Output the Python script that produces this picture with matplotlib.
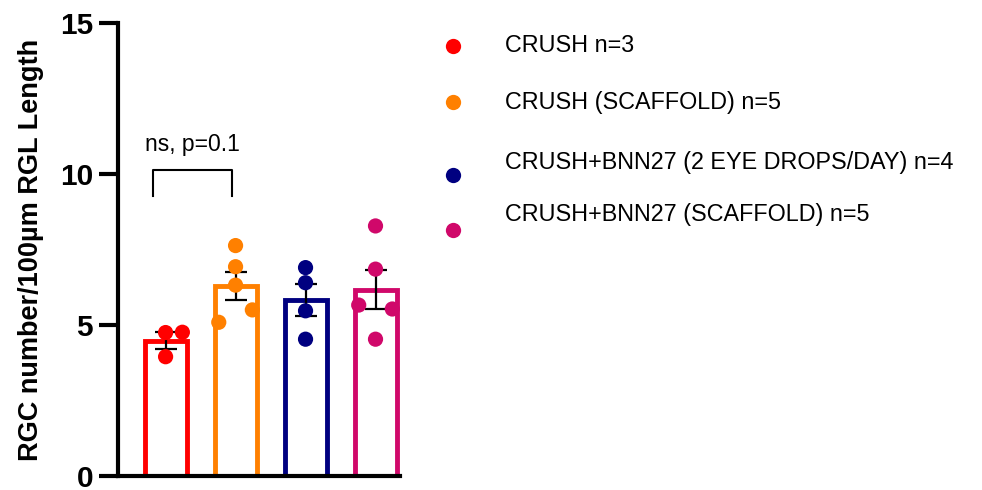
import numpy as np
import matplotlib
matplotlib.use("Agg")
import matplotlib.pyplot as plt
from matplotlib.lines import Line2D

plt.rcParams['font.family'] = ['Liberation Sans', 'DejaVu Sans']

# group labels and colours
groups = ['CRUSH n=3',
          'CRUSH (SCAFFOLD) n=5',
          'CRUSH+BNN27 (2 EYE DROPS/DAY) n=4',
          'CRUSH+BNN27 (SCAFFOLD) n=5']
colors = ['#FF0000', '#FF8000', '#000080', '#D0086A']

# individual measurements per group
crush = [4.75, 4.76, 3.95]
crush_scaffold = [7.63, 6.93, 6.32, 5.09, 5.50]
bnn27_drops = [6.90, 6.40, 5.47, 4.53]
bnn27_scaffold = [8.28, 6.85, 5.66, 5.53, 4.53]
values = [crush, crush_scaffold, bnn27_drops, bnn27_scaffold]

# horizontal spread of the dots (in bar units) so they don't overlap
spread = [[0, 0.24, 0],
          [0, 0, 0, -0.24, 0.24],
          [0, 0, 0, 0],
          [0, 0, -0.24, 0.24, 0]]

sig_text = 'ns, p=0.1'

fig = plt.figure(figsize=(9.82, 4.9), dpi=100)
ax = fig.add_axes([118 / 982, 14 / 490, 282 / 982, 453 / 490])

x = np.arange(len(values))
means = [np.mean(v) for v in values]
sems = [np.std(v, ddof=1) / np.sqrt(len(v)) for v in values]

ax.bar(x, means, width=0.6, facecolor='white', edgecolor=colors,
       linewidth=3.5, zorder=2)
ax.errorbar(x, means, yerr=sems, fmt='none', ecolor='black',
            elinewidth=1.6, capsize=8, capthick=1.6, zorder=3)
for i, v in enumerate(values):
    ax.scatter(x[i] + np.array(spread[i]), v, s=120, color=colors[i],
               edgecolor='none', zorder=4, clip_on=False)

# significance bracket between the first two groups
y0, y1 = 9.27, 10.13
ax.plot([x[0] - 0.18, x[0] - 0.18, x[1] - 0.05, x[1] - 0.05],
        [y0, y1, y1, y0], color='black', lw=1.5, clip_on=False)
ax.text((x[0] - 0.18 + x[1] - 0.05) / 2, 10.6, sig_text, ha='center',
        va='bottom', fontsize=16.5)

ax.set_xlim(-0.68, 3.35)
ax.set_ylim(0, 15)
ax.set_yticks([0, 5, 10, 15])
ax.set_xticks([])
for s in ['top', 'right']:
    ax.spines[s].set_visible(False)
for s in ['left', 'bottom']:
    ax.spines[s].set_linewidth(3)
ax.tick_params(axis='y', length=14, width=3, labelsize=21.5, pad=4)
for lab in ax.get_yticklabels():
    lab.set_fontweight('bold')
ax.set_ylabel('RGC number/100µm RGL Length', fontsize=19.5,
              fontweight='bold', labelpad=11)

# legend drawn by hand to keep its uneven spacing
marker_y = [46, 102, 175, 230]
text_y = [46, 102, 162, 215]
for c, g, my, ty in zip(colors, groups, marker_y, text_y):
    fig.add_artist(Line2D([453 / 982], [1 - my / 490], marker='o',
                          markersize=11, color=c, markeredgewidth=0,
                          transform=fig.transFigure))
    fig.text(505 / 982, 1 - ty / 490, g, fontsize=16.8, va='center')

fig.savefig('out.png', dpi=100)
